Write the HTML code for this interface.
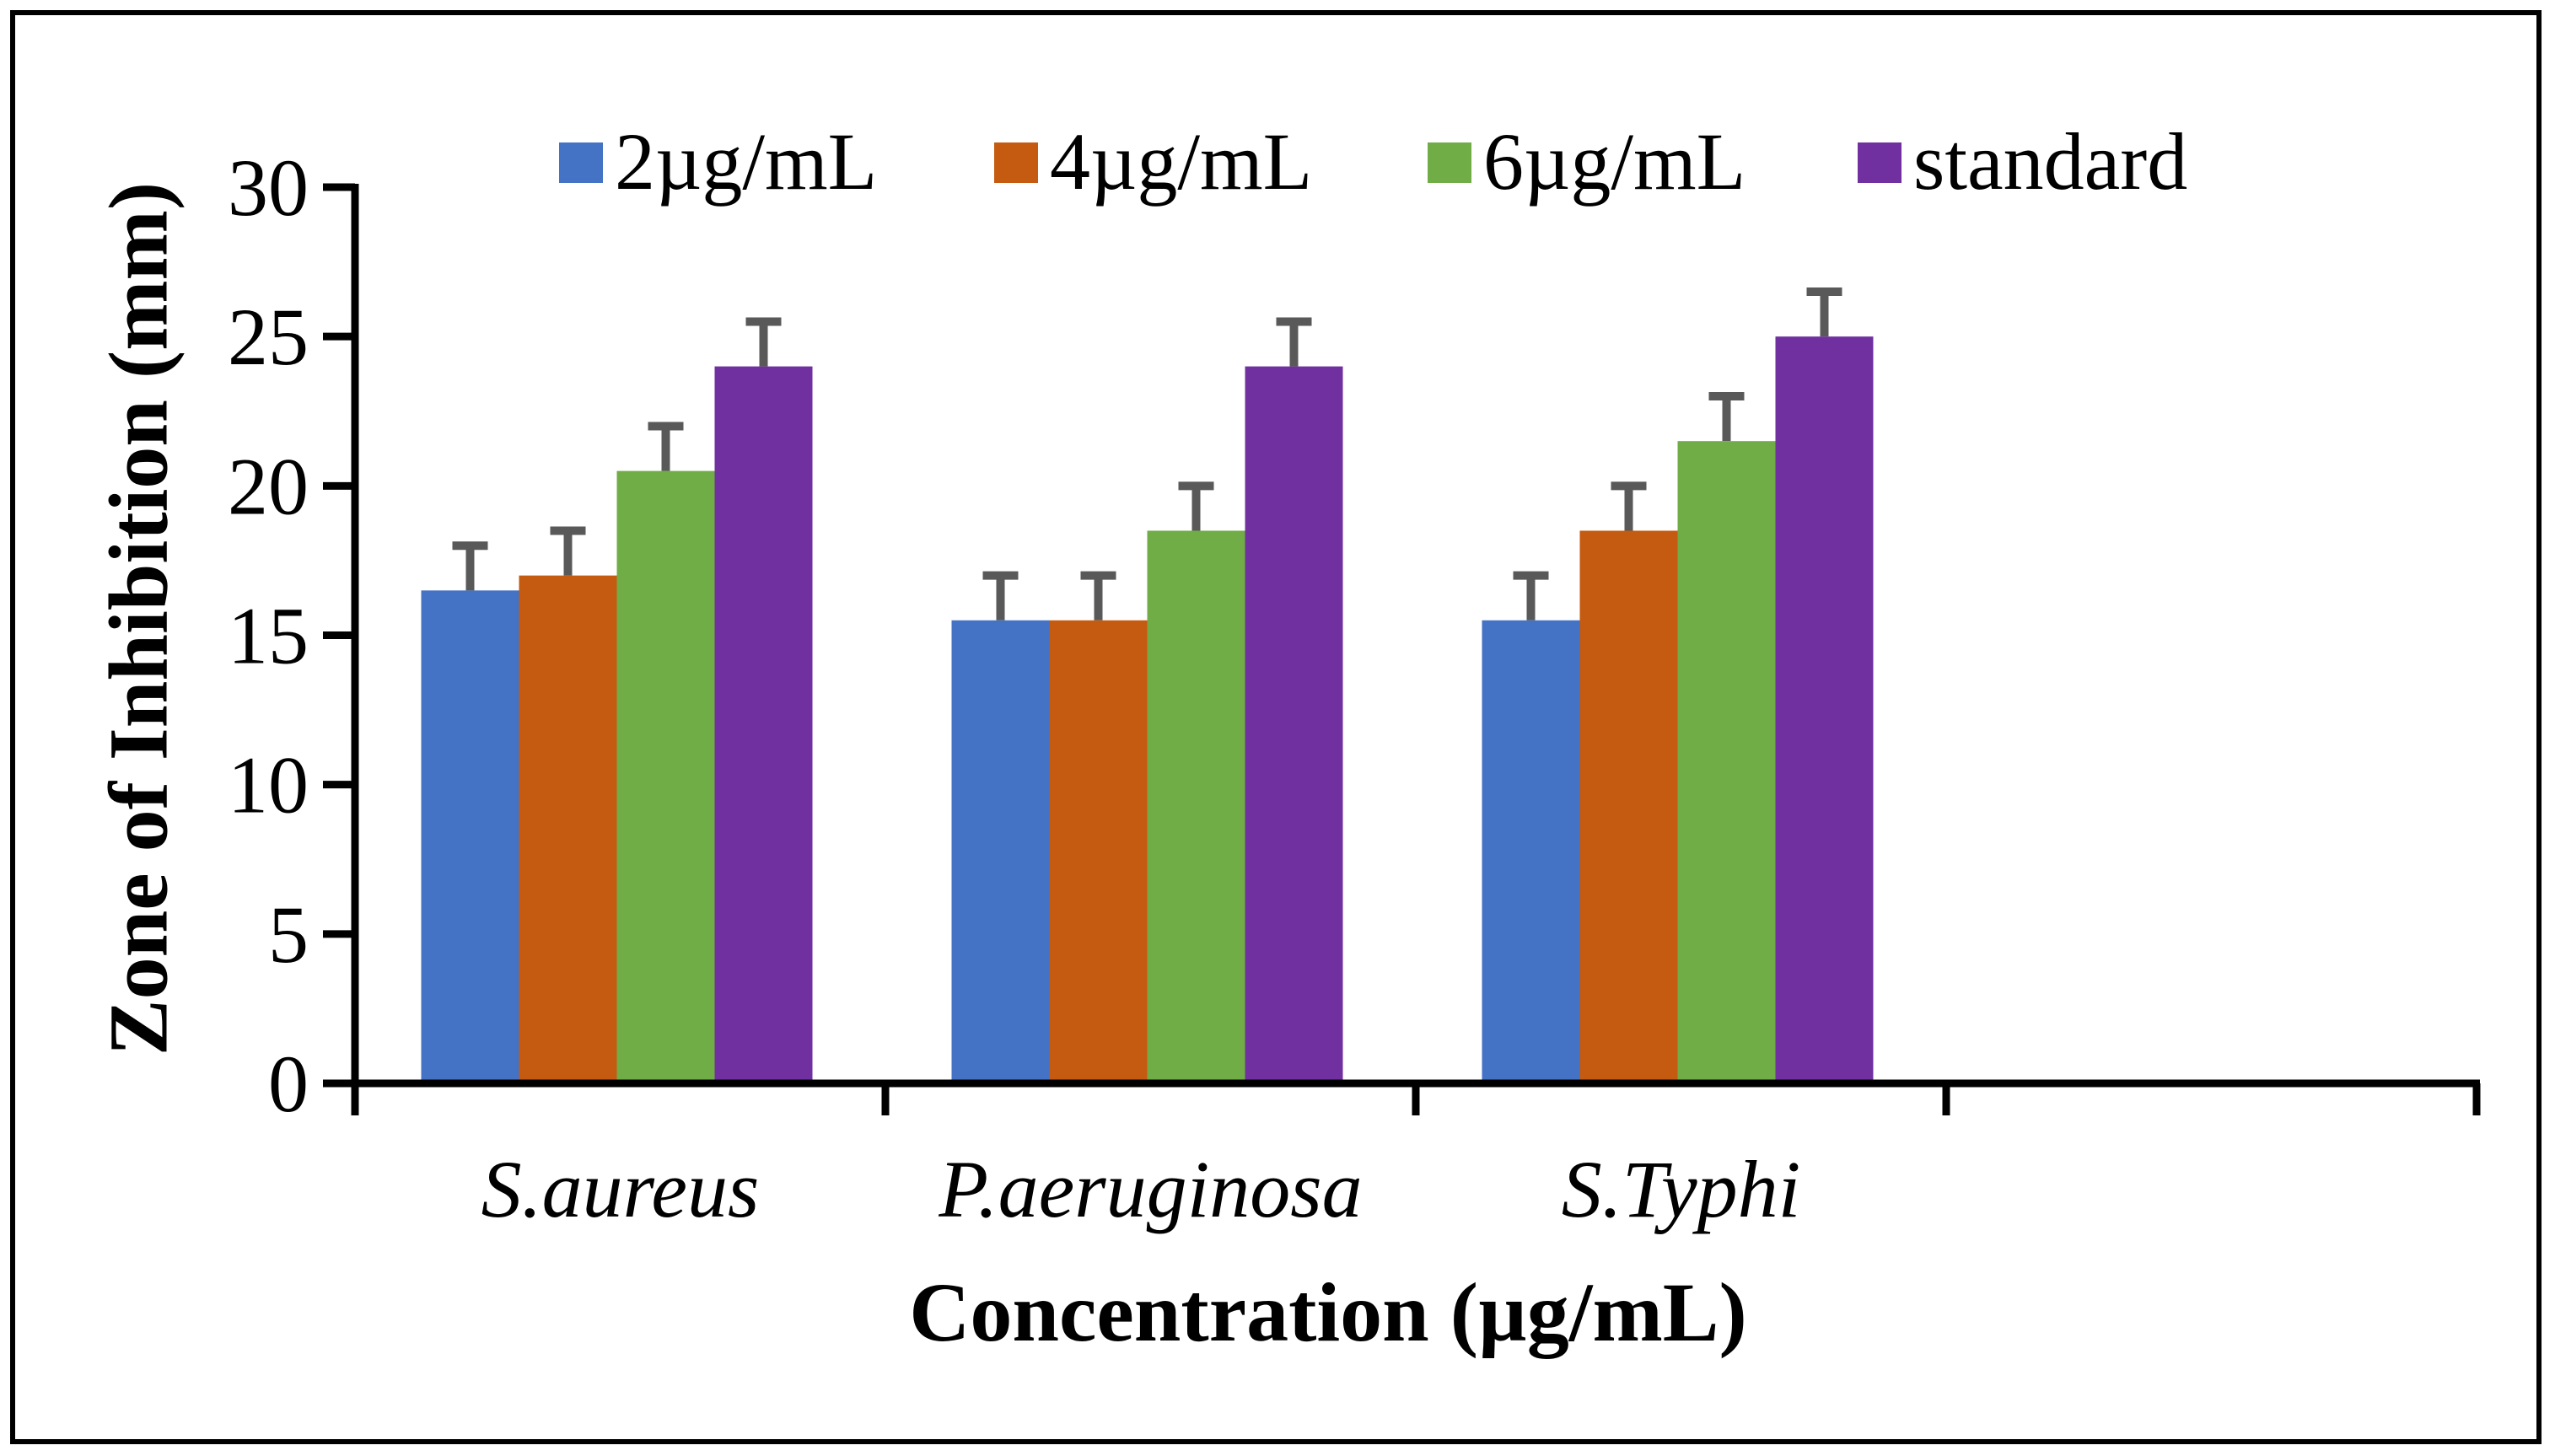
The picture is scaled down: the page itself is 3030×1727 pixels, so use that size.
<!DOCTYPE html>
<html><head><meta charset="utf-8"><style>
html,body{margin:0;padding:0;background:#fff;}
svg{display:block;}
</style></head><body>
<svg id="chart" width="3030" height="1727" viewBox="0 0 3030 1727" xmlns="http://www.w3.org/2000/svg">
<rect x="15" y="15" width="2996" height="1695" fill="#fff" stroke="#000" stroke-width="6"/>
<g id="bars"></g>
<g id="axes"></g>
<text x="164" y="734" transform="rotate(-90 164 734)" text-anchor="middle" dominant-baseline="central" font-family="Liberation Serif, serif" font-weight="bold" font-size="100">Zone of Inhibition (mm)</text>
<text x="1575" y="1590" text-anchor="middle" font-family="Liberation Serif, serif" font-weight="bold" font-size="100">Concentration (µg/mL)</text>
<g id="legend"></g>
</svg>
<script>
const categories = ["S.aureus", "P.aeruginosa", "S.Typhi", ""];
const seriesNames = ["2µg/mL", "4µg/mL", "6µg/mL", "standard"];
const conc2 = [16.5, 15.5, 15.5];
const conc4 = [17, 15.5, 18.5];
const conc6 = [20.5, 18.5, 21.5];
const standard = [24, 24, 25];
const err2 = [1.5, 1.5, 1.5];
const err4 = [1.5, 1.5, 1.5];
const err6 = [1.5, 1.5, 1.5];
const errStd = [1.5, 1.5, 1.5];
const yTicks = [0, 5, 10, 15, 20, 25, 30];

const NS = "http://www.w3.org/2000/svg";
const colors = ["#4472C4", "#C55A11", "#70AD47", "#7030A0"];
const series = [conc2, conc4, conc6, standard];
const errs = [err2, err4, err6, errStd];
const X0 = 421, X1 = 2937, Y0 = 1285, Y30 = 222;
const catW = (X1 - X0) / categories.length;
const barW = 116;
function y(v){ return Y0 - (v / 30) * (Y0 - Y30); }
function xCat(i){ return X0 + i * catW; }
function mk(tag, attrs, parent){ const e = document.createElementNS(NS, tag); for (const k in attrs) e.setAttribute(k, attrs[k]); parent.appendChild(e); return e; }

const bars = document.getElementById('bars');
series.forEach((s, si) => {
  s.forEach((v, ci) => {
    const gx = xCat(ci) + (catW - barW * 4) / 2 - 4 + si * barW;
    const r = mk('rect', {x: gx, y: y(v), width: barW, height: Y0 - y(v), fill: colors[si]}, bars);
    
    
    const cx = gx + barW / 2, top = y(v + errs[si][ci]);
    const l = mk('path', {d: `M${cx},${y(v)} V${top} M${cx-21},${top} H${cx+21}`, stroke: '#595959', 'stroke-width': 10, fill: 'none'}, bars);
    
    
  });
});

const axes = document.getElementById('axes');
const ya = mk('line', {x1: X0, y1: Y30 - 4, x2: X0, y2: Y0 + 4, stroke: '#000', 'stroke-width': 9}, axes);


const xa = mk('line', {x1: X0 - 4, y1: Y0, x2: X1 + 4, y2: Y0, stroke: '#000', 'stroke-width': 9}, axes);


yTicks.forEach(t => {
  const tk = mk('line', {x1: X0 - 38, y1: y(t), x2: X0, y2: y(t), stroke: '#000', 'stroke-width': 9}, axes);
  
  
  const tl = mk('text', {x: 366, y: y(t) + 33, 'text-anchor': 'end', 'font-family': 'Liberation Serif, serif', 'font-size': 96}, axes);
  tl.textContent = t;
  
  
});
for (let i = 0; i <= categories.length; i++) {
  const tk = mk('line', {x1: xCat(i), y1: Y0, x2: xCat(i), y2: Y0 + 38, stroke: '#000', 'stroke-width': 9}, axes);
  
  
}
categories.forEach((c, i) => {
  if (!c) return;
  const tl = mk('text', {x: xCat(i) + catW / 2, y: 1443, 'text-anchor': 'middle', 'font-family': 'Liberation Serif, serif', 'font-style': 'italic', 'font-size': 96}, axes);
  tl.textContent = c;
  
  
});

const legend = document.getElementById('legend');
const legX = [663, 1179, 1693, 2203];
seriesNames.forEach((n, i) => {
  const sw = mk('rect', {x: legX[i], y: 169, width: 52, height: 48, fill: colors[i]}, legend);
  
  
  const t = mk('text', {x: legX[i] + 66, y: 224, 'font-family': 'Liberation Serif, serif', 'font-size': 96}, legend);
  t.textContent = n;
  
  
});
</script>
</body></html>
